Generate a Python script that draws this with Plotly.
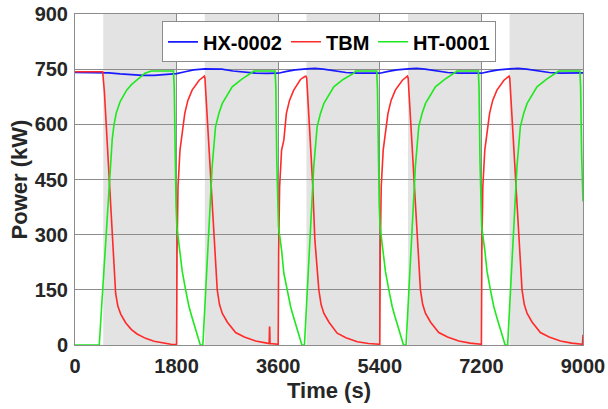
import plotly.graph_objects as go

# ---------------- data ----------------
tbm_t = [0, 490, 520, 560, 600, 640, 680, 700, 720, 760, 810, 900, 1000, 1100, 1250, 1400, 1550, 1700, 1792,
         1800, 1808, 1825, 1860, 1900, 1945, 2000, 2075, 2200, 2270, 2292, 2302, 2340, 2380, 2410, 2450, 2490, 2520, 2560, 2610, 2700, 2845, 3000, 3200, 3400, 3440, 3446, 3450, 3455, 3500, 3592,
         3600, 3608, 3625, 3660, 3700, 3745, 3800, 3875, 3994, 4070, 4090, 4105, 4140, 4180, 4210, 4250, 4290, 4320, 4360, 4410, 4500, 4645, 4800, 5000, 5200, 5392,
         5400, 5408, 5425, 5460, 5500, 5545, 5600, 5675, 5800, 5870, 5890, 5902, 5940, 5980, 6010, 6050, 6090, 6120, 6160, 6210, 6300, 6445, 6600, 6800, 7000, 7192,
         7200, 7208, 7225, 7260, 7300, 7345, 7400, 7475, 7600, 7670, 7690, 7702, 7740, 7780, 7810, 7850, 7890, 7920, 7960, 8010, 8100, 8245, 8400, 8600, 8800, 8990, 9000]
tbm_p = [743, 743, 690, 580, 450, 330, 220, 175, 140, 105, 84, 60, 42, 30, 18, 10, 5, 2, 1,
         2, 250, 430, 530, 580, 630, 665, 693, 720, 729, 731, 726, 640, 520, 440, 320, 215, 150, 110, 86, 62, 34, 22, 11, 5, 4, 48, 48, 4, 3, 2,
         2, 250, 430, 530, 557, 630, 665, 693, 722, 730, 731, 726, 640, 520, 440, 285, 200, 150, 110, 86, 62, 32, 20, 9, 4, 2,
         2, 250, 430, 530, 580, 630, 665, 693, 720, 729, 731, 726, 640, 520, 440, 320, 215, 150, 110, 86, 62, 34, 22, 11, 5, 2,
         2, 250, 430, 530, 580, 630, 665, 693, 720, 729, 731, 726, 640, 520, 440, 320, 215, 150, 110, 86, 62, 34, 22, 11, 5, 2, 28]

ht_t = [0, 430, 470, 520, 560, 600, 630, 660, 690, 730, 800, 915, 1000, 1100, 1240, 1350, 1745,
        1758, 1775, 1790, 1805, 1860, 1900, 1960, 2020, 2070, 2140, 2220, 2265, 2300, 2340, 2370, 2430, 2490, 2550, 2610, 2700, 2785, 2950, 3140, 3170, 3545,
        3558, 3575, 3590, 3605, 3660, 3700, 3760, 3820, 3870, 3940, 4020, 4065, 4100, 4140, 4170, 4230, 4290, 4350, 4410, 4500, 4585, 4750, 4940, 4970, 5345,
        5358, 5375, 5390, 5405, 5460, 5500, 5560, 5620, 5670, 5740, 5820, 5865, 5900, 5940, 5970, 6030, 6090, 6150, 6210, 6300, 6385, 6550, 6740, 6770, 7145,
        7158, 7175, 7190, 7205, 7260, 7300, 7360, 7420, 7470, 7540, 7620, 7665, 7700, 7740, 7770, 7830, 7890, 7950, 8010, 8100, 8185, 8350, 8540, 8570, 8945,
        8958, 8975, 9000]
ht_p = [0, 0, 100, 230, 330, 430, 500, 560, 598, 630, 662, 693, 708, 720, 739, 745, 745,
        700, 500, 380, 322, 258, 200, 150, 104, 77, 41, 0, 0, 100, 210, 331, 485, 594, 630, 657, 680, 702, 722, 740, 745, 745,
        700, 500, 380, 322, 258, 195, 150, 104, 77, 41, 0, 0, 100, 210, 331, 485, 594, 630, 657, 680, 702, 722, 739, 745, 745,
        700, 500, 380, 322, 258, 200, 150, 104, 77, 41, 0, 0, 100, 210, 331, 485, 594, 630, 657, 680, 702, 722, 740, 745, 745,
        700, 500, 380, 322, 258, 200, 150, 104, 77, 41, 0, 0, 100, 210, 331, 485, 594, 630, 657, 680, 702, 722, 740, 745, 745,
        700, 520, 390]

hx_t = [0, 500, 600, 800, 1000, 1200, 1400, 1600, 1800,
        1950, 2100, 2300, 2450, 2600, 2800, 3000, 3200, 3400, 3600,
        3750, 3900, 4100, 4250, 4400, 4600, 4800, 5000, 5200, 5400,
        5550, 5700, 5900, 6050, 6200, 6400, 6600, 6800, 7000, 7200,
        7350, 7500, 7700, 7850, 8000, 8200, 8400, 8600, 8800, 9000]
hx_p = [741, 741, 740, 737, 734, 733, 733, 735, 738,
        743, 748, 751, 751.5, 750, 745, 741, 739, 738.5, 739,
        744, 748, 751, 752, 750, 745, 741, 739, 738.5, 739,
        744, 748, 751, 752, 750, 745, 741, 739, 738.5, 739,
        744, 748, 751, 752, 750, 745, 741, 739, 738.5, 740]

band_start = [500, 2300, 4100, 5900, 7700]
band_end = [1800, 3600, 5400, 7200, 9000]

x_ticks = [0, 1800, 3600, 5400, 7200, 9000]
y_ticks = [0, 150, 300, 450, 600, 750, 900]

# ---------------- figure ----------------
FONT = "Arial, 'Liberation Sans', sans-serif"
TXT = "#262626"

fig = go.Figure()
fig.add_trace(go.Scatter(x=hx_t, y=hx_p, mode="lines", name="HX-0002",
                         line=dict(color="#1a1aff", width=1.7), legendwidth=78))
fig.add_trace(go.Scatter(x=tbm_t, y=tbm_p, mode="lines", name="TBM",
                         line=dict(color="#ff2a2a", width=1.6), legendwidth=42))
fig.add_trace(go.Scatter(x=ht_t, y=ht_p, mode="lines", name="HT-0001",
                         line=dict(color="#1ee81e", width=1.6)))

for s, e in zip(band_start, band_end):
    fig.add_shape(type="rect", xref="x", yref="paper", x0=s, x1=e, y0=0, y1=1,
                  fillcolor="#e3e3e3", line=dict(width=0), layer="below")

axis_common = dict(
    showgrid=True, gridcolor="#8c8c8c", gridwidth=1,
    showline=True, linecolor="#8c8c8c", linewidth=1, mirror=True,
    zeroline=False, ticks="", ticklabeloverflow="allow",
    tickfont=dict(family=FONT, size=20, color=TXT, weight="bold"),
)

fig.update_layout(
    width=608, height=409,
    margin=dict(l=75, r=25, t=14, b=64, autoexpand=False),
    paper_bgcolor="white", plot_bgcolor="white",
    showlegend=True,
    legend=dict(orientation="h", x=0.5, xanchor="center", y=0.978, yanchor="top",
                bgcolor="white", bordercolor="#8c8c8c", borderwidth=1,
                font=dict(family=FONT, size=20, color="black", weight="bold"),
                itemwidth=30, tracegroupgap=0),
    xaxis=dict(range=[0, 9000], tickvals=x_ticks, ticktext=[str(v) for v in x_ticks],
               ticklabelstandoff=3,
               title=dict(text="Time (s)", standoff=6,
                          font=dict(family=FONT, size=22, color=TXT, weight="bold")),
               **axis_common),
    yaxis=dict(range=[0, 900], tickvals=y_ticks, ticktext=[str(v) for v in y_ticks],
               ticklabelstandoff=2,
               title=dict(text="Power (kW)", standoff=0,
                          font=dict(family=FONT, size=22, color=TXT, weight="bold")),
               **axis_common),
)

# remove the browser's default 8px body margin so the figure fills the window
fig.write_html("out.html",
               config={"displayModeBar": False},
               post_script="document.body.style.margin='0';document.body.style.overflow='hidden';")
